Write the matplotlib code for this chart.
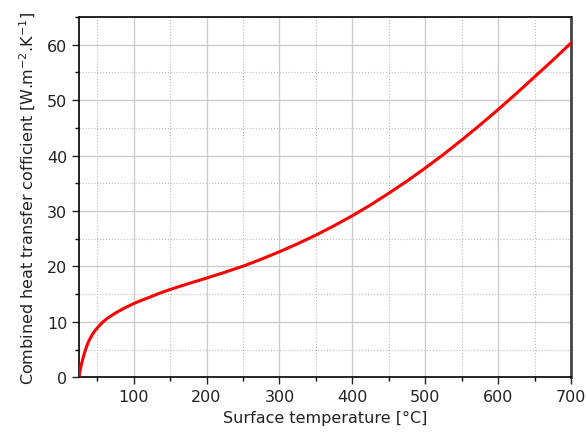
import numpy as np
import matplotlib
matplotlib.use("Agg")
import matplotlib.pyplot as plt
from matplotlib.ticker import MultipleLocator

# Data
temperature = [25, 26, 27, 28, 29, 31, 33, 35.5, 38, 40, 43, 46, 49, 53, 58,
               64, 72, 79, 86, 93, 100, 110, 122, 135, 150, 175, 200, 225,
               250, 275, 300, 325, 350, 375, 400, 425, 450, 475, 500, 525,
               550, 575, 600, 625, 650, 675, 700]
h_combined = [0.0, 0.9, 1.5, 2.2, 2.7, 3.7, 4.6, 5.6, 6.4, 6.95, 7.65, 8.25,
              8.75, 9.35, 10.0, 10.65, 11.35, 11.9, 12.4, 12.85, 13.3, 13.85,
              14.45, 15.15, 15.85, 16.9, 17.9, 18.95, 20.05, 21.3, 22.65,
              24.1, 25.65, 27.35, 29.15, 31.1, 33.2, 35.4, 37.75, 40.2, 42.8,
              45.5, 48.3, 51.2, 54.2, 57.2, 60.3]

plt.rcParams['font.family'] = 'DejaVu Sans'

fig = plt.figure(figsize=(5.87, 4.35), dpi=100)
ax = fig.add_axes([0.1346, 0.1303, 0.8381, 0.8283])

ax.plot(temperature, h_combined, color='#FF0000', linewidth=2.2, zorder=3,
        solid_joinstyle='round')

ax.set_xlim(25, 700)
ax.set_ylim(0, 65)
ax.xaxis.set_major_locator(MultipleLocator(100))
ax.xaxis.set_minor_locator(MultipleLocator(50))
ax.yaxis.set_major_locator(MultipleLocator(10))
ax.yaxis.set_minor_locator(MultipleLocator(5))

ax.grid(True, which='major', color='#CCCCCC', linestyle='-', linewidth=1.0)
ax.grid(True, which='minor', color='#BBBBBB', linestyle=':', linewidth=0.8)
ax.set_axisbelow(True)

ax.tick_params(which='major', direction='out', length=5, width=1, labelsize=11.5,
               top=False, right=False, colors='#222222')
ax.tick_params(which='minor', direction='out', length=3, width=1,
               top=False, right=False)

for side in ['left', 'bottom', 'top']:
    ax.spines[side].set_color('black')
    ax.spines[side].set_linewidth(1.2)
ax.spines['right'].set_color('#444444')
ax.spines['right'].set_linewidth(2)

ax.set_xlabel('Surface temperature [°C]', fontsize=11.5, labelpad=4, color='#222222')
ax.set_ylabel('Combined heat transfer cofficient [W.m$^{-2}$.K$^{-1}$]',
              fontsize=11.5, labelpad=6, color='#222222')

fig.savefig('out.png', dpi=100)
